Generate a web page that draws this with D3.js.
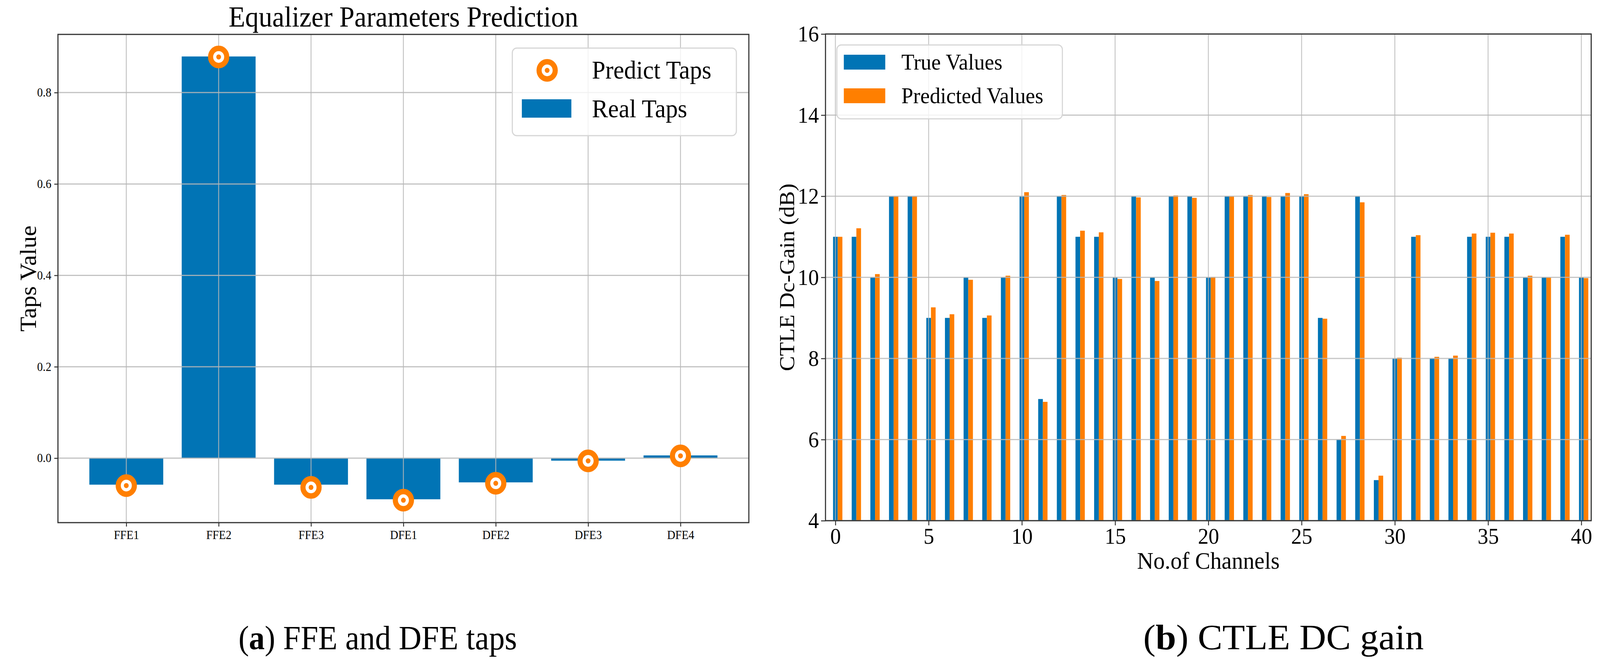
<!DOCTYPE html>
<html>
<head>
<meta charset="utf-8">
<script src="https://cdn.jsdelivr.net/npm/d3@7/dist/d3.min.js"></script>
<style>
  html, body { margin: 0; padding: 0; background: #fff; overflow: hidden; }
  svg { display: block; width: 100vw; height: 100vh; }
  text { font-family: "Liberation Serif", "DejaVu Serif", serif; fill: #000; }
</style>
</head>
<body>
<svg id="chart" viewBox="0 0 4363 1714" preserveAspectRatio="none"></svg>
<script>
// ---------- Data: panel (a) ----------
const tapNames = ["FFE1", "FFE2", "FFE3", "DFE1", "DFE2", "DFE3", "DFE4"];
const realTaps = [-0.058, 0.879, -0.058, -0.090, -0.053, -0.0055, 0.006];
const predictTaps = [-0.060, 0.878, -0.064, -0.092, -0.055, -0.006, 0.005];
const tapTicks = [0.0, 0.2, 0.4, 0.6, 0.8];

// ---------- Data: panel (b) ----------
const channels = d3.range(0, 41);
const trueValues = [11, 11, 10, 12, 12, 9, 9, 10, 9, 10,
                    12, 7, 12, 11, 11, 10, 12, 10, 12, 12,
                    10, 12, 12, 12, 12, 12, 9, 6, 12, 5,
                    8, 11, 8, 8, 11, 11, 11, 10, 10, 11, 10];
const predictedValues = [11.0, 11.21, 10.08, 12.0, 12.0, 9.26, 9.09, 9.94, 9.06, 10.04,
                         12.10, 6.93, 12.03, 11.15, 11.11, 9.96, 11.97, 9.91, 12.02, 11.96,
                         10.01, 12.0, 12.03, 11.98, 12.08, 12.05, 8.98, 6.09, 11.85, 5.11,
                         8.02, 11.04, 8.04, 8.07, 11.08, 11.10, 11.08, 10.04, 10.0, 11.05, 9.98];
const gainTicksY = [4, 6, 8, 10, 12, 14, 16];
const gainTicksX = [0, 5, 10, 15, 20, 25, 30, 35, 40];

const BLUE = "#0174b5";
const ORANGE = "#ff7f00";
const GRID = "#b8b8b8";
const SPINE = "#333333";

const svg = d3.select("#chart");
svg.append("rect").attr("width", 4363).attr("height", 1714).attr("fill", "#fff");

// ================= Panel (a) =================
(function () {
  const L = 158, R = 2042, T = 88, B = 1337;
  const x = d3.scaleLinear().domain([-0.74, tapNames.length - 1 + 0.74]).range([L, R]);
  const y = d3.scaleLinear().domain([-0.1411, 0.9273]).range([B, T]);
  const g = svg.append("g");

  g.selectAll("rect.bar").data(realTaps).join("rect")
    .attr("class", "bar")
    .attr("x", (d, i) => x(i - 0.4))
    .attr("width", (d, i) => x(i + 0.4) - x(i - 0.4))
    .attr("y", d => y(Math.max(d, 0)))
    .attr("height", d => Math.abs(y(d) - y(0)))
    .attr("fill", BLUE);

  g.selectAll("line.gx").data(tapNames).join("line")
    .attr("x1", (d, i) => x(i)).attr("x2", (d, i) => x(i))
    .attr("y1", T).attr("y2", B)
    .attr("stroke", GRID).attr("stroke-width", 2.5).attr("opacity", 0.85);
  g.selectAll("line.gy").data(tapTicks).join("line")
    .attr("x1", L).attr("x2", R)
    .attr("y1", d => y(d)).attr("y2", d => y(d))
    .attr("stroke", GRID).attr("stroke-width", 3).attr("opacity", 0.85);

  const mk = g.selectAll("g.mk").data(predictTaps).join("g")
    .attr("transform", (d, i) => `translate(${x(i)},${y(d)})`);
  mk.append("circle").attr("r", 22).attr("fill", "#fff").attr("stroke", ORANGE).attr("stroke-width", 14);
  mk.append("circle").attr("r", 6.5).attr("fill", ORANGE);

  g.append("rect").attr("x", L).attr("y", T).attr("width", R - L).attr("height", B - T)
    .attr("fill", "none").attr("stroke", SPINE).attr("stroke-width", 3);

  const yAxis = d3.axisLeft(y).tickValues(tapTicks).tickFormat(d3.format(".1f")).tickSize(10).tickPadding(8);
  const ya = g.append("g").attr("transform", `translate(${L},0)`).call(yAxis);
  const xAxis = d3.axisBottom(x).tickValues(d3.range(tapNames.length)).tickFormat(i => tapNames[i]).tickSize(10).tickPadding(10);
  const xa = g.append("g").attr("transform", `translate(0,${B})`).call(xAxis);
  [ya, xa].forEach(a => {
    a.select(".domain").remove();
    a.selectAll(".tick line").attr("stroke", SPINE).attr("stroke-width", 2.5);
    a.selectAll(".tick text").style("font-family", "Liberation Serif").style("font-size", "31px").attr("fill", "#000");
  });

  g.append("text").attr("x", (L + R) / 2).attr("y", 68).attr("text-anchor", "middle")
    .style("font-size", "74px").text("Equalizer Parameters Prediction");
  g.append("text").attr("transform", `translate(98,${(T + B) / 2}) rotate(-90)`)
    .attr("text-anchor", "middle").style("font-size", "62px").text("Taps Value");

  const lg = g.append("g");
  lg.append("rect").attr("x", 1397).attr("y", 123).attr("width", 611).attr("height", 224).attr("rx", 12)
    .attr("fill", "#fff").attr("fill-opacity", 0.8).attr("stroke", "#d6d6d6").attr("stroke-width", 3);
  lg.append("circle").attr("cx", 1492).attr("cy", 180).attr("r", 22).attr("fill", "#fff").attr("stroke", ORANGE).attr("stroke-width", 14);
  lg.append("circle").attr("cx", 1492).attr("cy", 180).attr("r", 6.5).attr("fill", ORANGE);
  lg.append("rect").attr("x", 1423).attr("y", 254).attr("width", 135).attr("height", 47).attr("fill", BLUE);
  lg.append("text").attr("x", 1614).attr("y", 201).style("font-size", "66px").text("Predict Taps");
  lg.append("text").attr("x", 1614).attr("y", 300).style("font-size", "66px").text("Real Taps");

  const cap = g.append("text").attr("x", 1030).attr("y", 1661).attr("text-anchor", "middle").style("font-size", "86px");
  cap.append("tspan").text("(");
  cap.append("tspan").style("font-weight", "bold").text("a");
  cap.append("tspan").text(") FFE and DFE taps");
})();

// ================= Panel (b) =================
(function () {
  const L = 2251, R = 4339, T = 87, B = 1332;
  const x = d3.scaleLinear().domain([-0.531, 40.53]).range([L, R]);
  const y = d3.scaleLinear().domain([4, 16]).range([B, T]);
  const g = svg.append("g");
  const bw = 0.25;

  g.selectAll("rect.t").data(trueValues).join("rect")
    .attr("x", (d, i) => x(channels[i] - bw / 2))
    .attr("width", (d, i) => x(channels[i] + bw / 2) - x(channels[i] - bw / 2))
    .attr("y", d => y(d)).attr("height", d => y(4) - y(d))
    .attr("fill", BLUE);
  g.selectAll("rect.p").data(predictedValues).join("rect")
    .attr("x", (d, i) => x(channels[i] + bw / 2))
    .attr("width", (d, i) => x(channels[i] + 1.5 * bw) - x(channels[i] + bw / 2))
    .attr("y", d => y(d)).attr("height", d => y(4) - y(d))
    .attr("fill", ORANGE);

  g.selectAll("line.gx").data(gainTicksX).join("line")
    .attr("x1", d => x(d)).attr("x2", d => x(d)).attr("y1", T).attr("y2", B)
    .attr("stroke", GRID).attr("stroke-width", 2.5).attr("opacity", 0.8);
  g.selectAll("line.gy").data(gainTicksY).join("line")
    .attr("x1", L).attr("x2", R).attr("y1", d => y(d)).attr("y2", d => y(d))
    .attr("stroke", GRID).attr("stroke-width", 3).attr("opacity", 0.8);

  g.append("rect").attr("x", L).attr("y", T).attr("width", R - L).attr("height", B - T)
    .attr("fill", "none").attr("stroke", SPINE).attr("stroke-width", 3);

  const yAxis = d3.axisLeft(y).tickValues(gainTicksY).tickFormat(d3.format("d")).tickSize(12).tickPadding(6);
  const ya = g.append("g").attr("transform", `translate(${L},0)`).call(yAxis);
  const xAxis = d3.axisBottom(x).tickValues(gainTicksX).tickFormat(d3.format("d")).tickSize(12).tickPadding(6);
  const xa = g.append("g").attr("transform", `translate(0,${B})`).call(xAxis);
  [ya, xa].forEach(a => {
    a.select(".domain").remove();
    a.selectAll(".tick line").attr("stroke", SPINE).attr("stroke-width", 2.5);
    a.selectAll(".tick text").style("font-family", "Liberation Serif").style("font-size", "58px").attr("fill", "#000");
  });

  g.append("text").attr("x", (L + R) / 2).attr("y", 1455).attr("text-anchor", "middle")
    .style("font-size", "62px").text("No.of Channels");
  g.append("text").attr("transform", `translate(2165,${(T + B) / 2}) rotate(-90)`)
    .attr("text-anchor", "middle").style("font-size", "58px").text("CTLE Dc-Gain (dB)");

  const lg = g.append("g");
  lg.append("rect").attr("x", 2282).attr("y", 115).attr("width", 615).attr("height", 189).attr("rx", 12)
    .attr("fill", "#fff").attr("fill-opacity", 0.8).attr("stroke", "#d6d6d6").attr("stroke-width", 3);
  lg.append("rect").attr("x", 2301).attr("y", 140).attr("width", 113).attr("height", 38).attr("fill", BLUE);
  lg.append("rect").attr("x", 2301).attr("y", 226).attr("width", 113).attr("height", 38).attr("fill", ORANGE);
  lg.append("text").attr("x", 2458).attr("y", 178).style("font-size", "58px").text("True Values");
  lg.append("text").attr("x", 2458).attr("y", 264).style("font-size", "58px").text("Predicted Values");

  const cap = g.append("text").attr("x", 3500).attr("y", 1661).attr("text-anchor", "middle")
    .attr("textLength", 765).attr("lengthAdjust", "spacingAndGlyphs").style("font-size", "90px");
  cap.append("tspan").text("(");
  cap.append("tspan").style("font-weight", "bold").text("b");
  cap.append("tspan").text(") CTLE DC gain");
})();
</script>
</body>
</html>
